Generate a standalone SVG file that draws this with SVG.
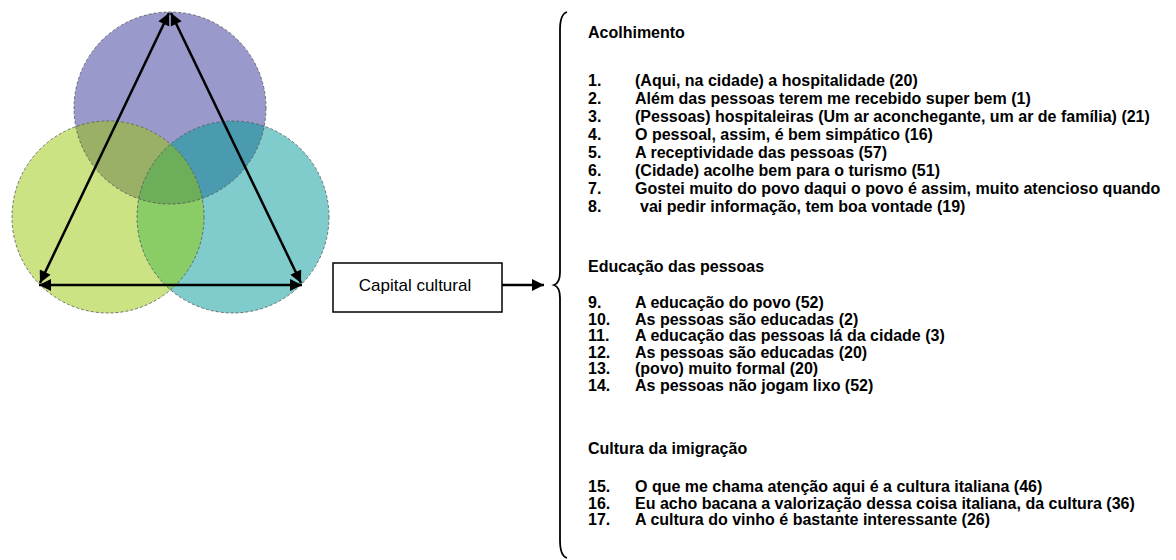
<svg xmlns="http://www.w3.org/2000/svg" width="1176" height="560" viewBox="0 0 1176 560">
<style>
.circ{stroke:#555;stroke-width:0.8;stroke-dasharray:3 2}
.arr{stroke:#000;stroke-width:2.5;fill:none}
.box{fill:#fff;stroke:#000;stroke-width:1.5}
.lbl{font-family:"Liberation Sans",Arial,sans-serif;font-size:17px;fill:#000}
.t{font-family:"Liberation Sans",Arial,sans-serif;font-size:16px;font-weight:bold;fill:#000}
.brace{fill:none;stroke:#000;stroke-width:1.8}
</style>
<defs>
<marker id="ah" viewBox="0 0 10 10" refX="10" refY="5" markerWidth="13" markerHeight="12" markerUnits="userSpaceOnUse" orient="auto-start-reverse">
<path d="M0,0 L10,5 L0,10 z" fill="#000"/>
</marker>
<clipPath id="cTop"><circle cx="170" cy="108" r="96"/></clipPath>
<clipPath id="cLeft"><circle cx="108" cy="217" r="96"/></clipPath>
<clipPath id="cRight"><circle cx="233" cy="217" r="96"/></clipPath>
</defs>
<g id="venn">
<circle id="circle-top" cx="170" cy="108" r="96" fill="#9999CC"/>
<circle id="circle-left" cx="108" cy="217" r="96" fill="#CCE383"/>
<circle id="circle-right" cx="233" cy="217" r="96" fill="#80CCCC"/>
<g clip-path="url(#cTop)"><circle cx="108" cy="217" r="96" fill="#99B066"/><circle cx="233" cy="217" r="96" fill="#4A9AB0"/></g>
<g clip-path="url(#cLeft)"><circle cx="233" cy="217" r="96" fill="#8ACC66"/></g>
<g clip-path="url(#cLeft)"><g clip-path="url(#cRight)"><circle cx="170" cy="108" r="96" fill="#6CAE5A"/></g></g>
<circle class="circ" cx="170" cy="108" r="96" fill="none"/>
<circle class="circ" cx="108" cy="217" r="96" fill="none"/>
<circle class="circ" cx="233" cy="217" r="96" fill="none"/>
</g>
<g id="capital-cultural">
<rect class="box" x="333" y="263" width="169" height="49"/>
<text class="lbl" x="415" y="291" text-anchor="middle">Capital cultural</text>
</g>
<g id="connectors">
<line class="arr" x1="169" y1="13" x2="40" y2="283" marker-start="url(#ah)" marker-end="url(#ah)"/>
<line class="arr" x1="171" y1="13" x2="301" y2="283" marker-start="url(#ah)" marker-end="url(#ah)"/>
<line class="arr" x1="39" y1="285" x2="302" y2="285" marker-start="url(#ah)" marker-end="url(#ah)"/>
<line class="arr" stroke-width="2" x1="502" y1="285" x2="544" y2="285" marker-end="url(#ah)"/>
</g>
<g id="brace">
<path class="brace" d="M567,12 Q560,14 560,30 L560,272 Q560,283 554,285 Q560,287 560,298 L560,540 Q560,556 567,558"/>
</g>
<g id="list">
<text class="t" x="588" y="38">Acolhimento</text>
<text class="t" x="588" y="86">1.</text><text class="t" x="635" y="86">(Aqui, na cidade) a hospitalidade (20)</text>
<text class="t" x="588" y="104">2.</text><text class="t" x="635" y="104">Além das pessoas terem me recebido super bem (1)</text>
<text class="t" x="588" y="122">3.</text><text class="t" x="635" y="122">(Pessoas) hospitaleiras (Um ar aconchegante, um ar de família) (21)</text>
<text class="t" x="588" y="140">4.</text><text class="t" x="635" y="140">O pessoal, assim, é bem simpático (16)</text>
<text class="t" x="588" y="158">5.</text><text class="t" x="635" y="158">A receptividade das pessoas (57)</text>
<text class="t" x="588" y="176">6.</text><text class="t" x="635" y="176">(Cidade) acolhe bem para o turismo (51)</text>
<text class="t" x="588" y="194">7.</text><text class="t" x="635" y="194">Gostei muito do povo daqui o povo é assim, muito atencioso quando</text>
<text class="t" x="588" y="212">8.</text><text class="t" x="640" y="212">vai pedir informação, tem boa vontade (19)</text>
<text class="t" x="588" y="272">Educação das pessoas</text>
<text class="t" x="588" y="308">9.</text><text class="t" x="635" y="308">A educação do povo (52)</text>
<text class="t" x="588" y="324.6">10.</text><text class="t" x="635" y="324.6">As pessoas são educadas (2)</text>
<text class="t" x="588" y="341.2">11.</text><text class="t" x="635" y="341.2">A educação das pessoas lá da cidade (3)</text>
<text class="t" x="588" y="357.8">12.</text><text class="t" x="635" y="357.8">As pessoas são educadas (20)</text>
<text class="t" x="588" y="374.4">13.</text><text class="t" x="635" y="374.4">(povo) muito formal (20)</text>
<text class="t" x="588" y="391">14.</text><text class="t" x="635" y="391">As pessoas não jogam lixo (52)</text>
<text class="t" x="588" y="454">Cultura da imigração</text>
<text class="t" x="588" y="492">15.</text><text class="t" x="635" y="492">O que me chama atenção aqui é a cultura italiana (46)</text>
<text class="t" x="588" y="508.5">16.</text><text class="t" x="635" y="508.5">Eu acho bacana a valorização dessa coisa italiana, da cultura (36)</text>
<text class="t" x="588" y="525">17.</text><text class="t" x="635" y="525">A cultura do vinho é bastante interessante (26)</text>
</g>
</svg>
